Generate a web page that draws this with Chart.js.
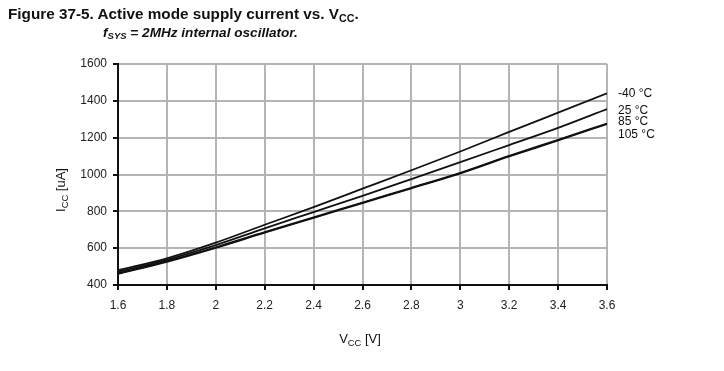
<!DOCTYPE html>
<html lang="en">
<head>
<meta charset="utf-8">
<title>Active mode supply current vs. Vcc</title>
<script src="https://cdn.jsdelivr.net/npm/chart.js@4/dist/chart.umd.min.js"></script>
<style>
    html, body { margin: 0; padding: 0; background: #fff; }
    #wrap { position: relative; width: 724px; height: 371px; overflow: hidden; }
    #chart { position: absolute; left: 0; top: 0; }
    .title { position: absolute; font-family: "Liberation Sans", Arial, sans-serif; color: #111; white-space: nowrap; }
    #t1 { left: 8px; top: 5px; font-size: 15.3px; font-weight: bold; }
    #t2 { left: 103px; top: 25px; font-size: 13.6px; font-weight: bold; font-style: italic; }
    .title sub { font-size: 70%; vertical-align: -0.25em; line-height: 0; }
</style>
</head>
<body>
<div id="wrap">
    <canvas id="chart" width="724" height="371"></canvas>
    <div class="title" id="t1">Figure 37-5. Active mode supply current vs. V<sub>CC</sub>.</div>
    <div class="title" id="t2">f<sub>SYS</sub> = 2MHz internal oscillator.</div>
</div>
<script>
// supply voltage (V)
var vcc = [1.6, 1.8, 2.0, 2.2, 2.4, 2.6, 2.8, 3.0, 3.2, 3.4, 3.6];
// supply current (uA) per temperature
var icc_m40 = [480, 545, 630, 727, 823, 923, 1023, 1125, 1231, 1336, 1441];
var icc_25  = [472, 537, 617, 708, 796, 884, 975, 1067, 1160, 1253, 1355];
var icc_85  = [463, 529, 605, 687, 767, 848, 928, 1009, 1101, 1188, 1277];
var icc_105 = [460, 526, 602, 684, 764, 845, 925, 1006, 1098, 1185, 1274];
var seriesNames = ['-40 °C', '25 °C', '85 °C', '105 °C'];

var FONT = '"Liberation Sans", Arial, sans-serif';

function pts(ys) {
    return vcc.map(function(v, i) { return { x: v, y: ys[i] }; });
}

function line(name, ys) {
    return {
        label: name,
        data: pts(ys),
        borderColor: '#111',
        borderWidth: 1.8,
        pointRadius: 0,
        fill: false,
        cubicInterpolationMode: 'monotone'
    };
}

// draw text made of normal and subscript pieces
function richText(ctx, parts, x, y, size) {
    var w = 0;
    parts.forEach(function(p) {
        ctx.font = (p.sub ? size * 0.72 : size) + 'px ' + FONT;
        w += ctx.measureText(p.t).width;
    });
    var cx = x - w / 2;
    parts.forEach(function(p) {
        ctx.font = (p.sub ? size * 0.72 : size) + 'px ' + FONT;
        ctx.fillText(p.t, cx, p.sub ? y + size * 0.25 : y);
        cx += ctx.measureText(p.t).width;
    });
}

var labelsPlugin = {
    id: 'labels',
    afterDraw: function(chart) {
        var ctx = chart.ctx;
        var area = chart.chartArea;
        var ys = chart.scales.y;
        ctx.save();
        ctx.fillStyle = '#111';
        ctx.textAlign = 'left';
        ctx.textBaseline = 'alphabetic';

        // axis titles
        richText(ctx, [{ t: 'V' }, { t: 'CC', sub: true }, { t: ' [V]' }], 360, 343, 13);
        ctx.save();
        ctx.translate(65, 190);
        ctx.rotate(-Math.PI / 2);
        richText(ctx, [{ t: 'I' }, { t: 'CC', sub: true }, { t: ' [uA]' }], 0, 0, 13);
        ctx.restore();

        // curve labels at the right end
        var shift = [0, 2, -2, 11];
        ctx.font = '12px ' + FONT;
        ctx.textBaseline = 'middle';
        chart.data.datasets.forEach(function(ds, i) {
            var last = ds.data[ds.data.length - 1];
            ctx.fillText(seriesNames[i], area.right + 11, ys.getPixelForValue(last.y) + shift[i]);
        });
        ctx.restore();
    }
};

new Chart(document.getElementById('chart'), {
    type: 'line',
    data: {
        datasets: [
            line(seriesNames[0], icc_m40),
            line(seriesNames[1], icc_25),
            line(seriesNames[2], icc_85),
            line(seriesNames[3], icc_105)
        ]
    },
    plugins: [labelsPlugin],
    options: {
        responsive: false,
        animation: false,
        layout: { padding: { left: 0, top: 64, right: 117, bottom: 56 } },
        plugins: {
            legend: { display: false },
            tooltip: { enabled: false }
        },
        scales: {
            x: {
                type: 'linear',
                min: 1.6,
                max: 3.6,
                afterFit: function(s) { s.height = 30; },
                ticks: {
                    stepSize: 0.2, padding: 8, color: '#222', font: { family: FONT, size: 12 },
                    callback: function(v) { return String(Math.round(v * 10) / 10); }
                },
                grid: { color: '#b4b4b4', lineWidth: 2, tickColor: '#111', tickLength: 5 },
                border: { color: '#111', width: 2 }
            },
            y: {
                min: 400,
                max: 1600,
                afterFit: function(s) { s.width = 118; },
                ticks: {
                    stepSize: 200, padding: 6, color: '#222', font: { family: FONT, size: 12 },
                    callback: function(v) { return String(v); }
                },
                grid: { color: '#b4b4b4', lineWidth: 2, tickColor: '#111', tickLength: 5 },
                border: { color: '#111', width: 2 }
            }
        }
    }
});
</script>
</body>
</html>
